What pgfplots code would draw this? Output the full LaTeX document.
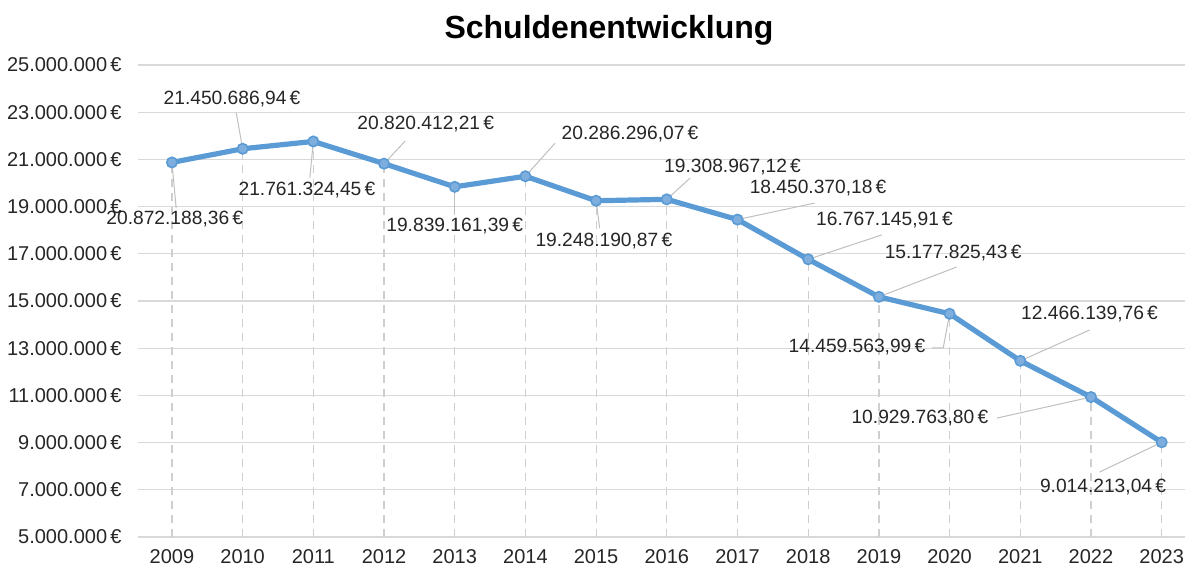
\documentclass[border=0pt]{standalone}
\usepackage{fontspec}
\setmainfont{Liberation Sans}
\usepackage{pgfplots}
\pgfplotsset{compat=1.18}

\definecolor{lineblue}{HTML}{5B9BD5}
\definecolor{markblue}{HTML}{7DAEDD}
\definecolor{gridgray}{HTML}{D9D9D9}
\definecolor{leadgray}{HTML}{BFBFBF}
\definecolor{dropgray}{HTML}{CFCFCF}

\begin{document}
\begin{tikzpicture}
\useasboundingbox (-69pt,-16.5pt) rectangle (527pt,268.5pt);
\node[font=\fontsize{16}{19}\selectfont\bfseries] at (235.5pt,253.5pt) {Schuldenentwicklung};
\begin{axis}[
    scale only axis,
    width=523.5pt, height=236pt,
    clip mode=individual,
    xmin=2008.52, xmax=2023.33,
    ymin=5000000, ymax=25000000,
    scaled y ticks=false,
    xtick={2009,2010,2011,2012,2013,2014,2015,2016,2017,2018,2019,2020,2021,2022,2023},
    xticklabels={2009,2010,2011,2012,2013,2014,2015,2016,2017,2018,2019,2020,2021,2022,2023},
    ytick={5000000,7000000,9000000,11000000,13000000,15000000,17000000,19000000,21000000,23000000,25000000},
    yticklabels={5.000.000\,€,7.000.000\,€,9.000.000\,€,11.000.000\,€,13.000.000\,€,15.000.000\,€,17.000.000\,€,19.000.000\,€,21.000.000\,€,23.000.000\,€,25.000.000\,€},
    ymajorgrids=true,
    grid style={gridgray, line width=0.6pt},
    axis line style={draw=none},
    major tick length=0pt,
    tick label style={font=\fontsize{10}{12}\selectfont, text=black!85},
    yticklabel style={anchor=east, inner sep=0pt, xshift=-8pt},
    xticklabel style={anchor=north, inner sep=0pt, yshift=-6pt},
  ]
  % drop lines
  \addplot[ycomb, dropgray, line width=0.6pt, dash pattern=on 4pt off 3pt, forget plot] coordinates {
    (2009,20872188.36) (2010,21450686.94) (2011,21761324.45) (2012,20820412.21)
    (2013,19839161.39) (2014,20286296.07) (2015,19248190.87) (2016,19308967.12)
    (2017,18450370.18) (2018,16767145.91) (2019,15177825.43) (2020,14459563.99)
    (2021,12466139.76) (2022,10929763.80) (2023,9014213.04)};

  % leader lines
  \begin{scope}[leadgray, line width=0.5pt]
  \draw (axis cs:2009,20872188.36) -- (axis cs:2009.06,18940000);
  \draw (axis cs:2010,21450686.94) -- (axis cs:2009.91,22970000);
  \draw (axis cs:2011,21761324.45) -- (axis cs:2010.95,20210000);
  \draw (axis cs:2012,20820412.21) -- (axis cs:2012.30,21780000);
  \draw (axis cs:2013,19839161.39) -- (axis cs:2013.0,18690000);
  \draw (axis cs:2014,20286296.07) -- (axis cs:2014.42,21690000);
  \draw (axis cs:2015,19248190.87) -- (axis cs:2015.05,18090000);
  \draw (axis cs:2016,19308967.12) -- (axis cs:2016.33,20210000);
  \draw (axis cs:2017,18450370.18) -- (axis cs:2018.09,19150000);
  \draw (axis cs:2018,16767145.91) -- (axis cs:2019.04,17800000);
  \draw (axis cs:2019,15177825.43) -- (axis cs:2020.10,16440000);
  \draw (axis cs:2020,14459563.99) -- (axis cs:2019.91,13010000) -- (axis cs:2019.75,13010000);
  \draw (axis cs:2021,12466139.76) -- (axis cs:2021.98,13770000);
  \draw (axis cs:2022,10929763.80) -- (axis cs:2020.67,10040000);
  \draw (axis cs:2023,9014213.04) -- (axis cs:2022.12,7750000);
  \end{scope}

  \addplot[lineblue, line width=2.6pt, mark=*, mark size=2.6pt,
    mark options={fill=markblue, draw=lineblue, line width=0.8pt}] coordinates {
    (2009,20872188.36) (2010,21450686.94) (2011,21761324.45) (2012,20820412.21)
    (2013,19839161.39) (2014,20286296.07) (2015,19248190.87) (2016,19308967.12)
    (2017,18450370.18) (2018,16767145.91) (2019,15177825.43) (2020,14459563.99)
    (2021,12466139.76) (2022,10929763.80) (2023,9014213.04)};

  % data labels
  \begin{scope}[every node/.style={font=\fontsize{9.6}{11}\selectfont, text=black!85, inner sep=0pt}]
  \node at (axis cs:2009.04,18470000) {20.872.188,36\,€};
  \node at (axis cs:2009.85,23560000) {21.450.686,94\,€};
  \node at (axis cs:2010.91,19700000) {21.761.324,45\,€};
  \node at (axis cs:2012.59,22500000) {20.820.412,21\,€};
  \node at (axis cs:2013.00,18180000) {19.839.161,39\,€};
  \node at (axis cs:2015.48,22080000) {20.286.296,07\,€};
  \node at (axis cs:2015.11,17540000) {19.248.190,87\,€};
  \node at (axis cs:2016.93,20680000) {19.308.967,12\,€};
  \node at (axis cs:2018.14,19790000) {18.450.370,18\,€};
  \node at (axis cs:2019.08,18430000) {16.767.145,91\,€};
  \node at (axis cs:2020.05,17030000) {15.177.825,43\,€};
  \node at (axis cs:2018.69,13050000) {14.459.563,99\,€};
  \node at (axis cs:2021.98,14450000) {12.466.139,76\,€};
  \node at (axis cs:2019.58,10040000) {10.929.763,80\,€};
  \node at (axis cs:2022.17,7120000) {9.014.213,04\,€};
  \end{scope}
\end{axis}
\end{tikzpicture}
\end{document}
